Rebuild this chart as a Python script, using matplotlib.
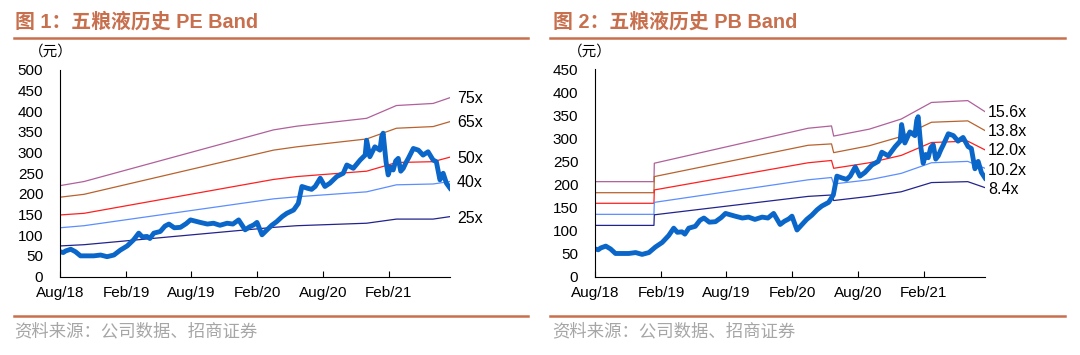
import matplotlib
matplotlib.use("Agg")
import matplotlib.pyplot as plt
import matplotlib.dates as mdates
import matplotlib.transforms as mtransforms
from matplotlib.lines import Line2D
import pandas as pd

plt.rcParams['font.family'] = ['Liberation Sans', 'Noto Sans CJK SC', 'DejaVu Sans']

# 股价（元）
price_dates = ['2018-08-01', '2018-08-10', '2018-08-17', '2018-08-31', '2018-09-13', '2018-09-27',
               '2018-10-16', '2018-11-03', '2018-11-22', '2018-12-10', '2018-12-29', '2019-01-16',
               '2019-02-04', '2019-02-22', '2019-03-08', '2019-03-18', '2019-03-31', '2019-04-08',
               '2019-04-19', '2019-05-07', '2019-05-20', '2019-05-31', '2019-06-15', '2019-07-02',
               '2019-07-18', '2019-07-30', '2019-08-26', '2019-09-15', '2019-10-02', '2019-10-20',
               '2019-11-09', '2019-11-25', '2019-12-11', '2019-12-29', '2020-01-10', '2020-01-22',
               '2020-01-31', '2020-02-14', '2020-02-28', '2020-03-12', '2020-03-26', '2020-04-10',
               '2020-04-23', '2020-05-12', '2020-05-25', '2020-06-04', '2020-06-18', '2020-07-01',
               '2020-07-11', '2020-07-25', '2020-08-07', '2020-08-21', '2020-09-09', '2020-09-27',
               '2020-10-07', '2020-10-25', '2020-11-13', '2020-11-27', '2020-12-01', '2020-12-10',
               '2020-12-24', '2021-01-07', '2021-01-12', '2021-01-16', '2021-01-24', '2021-01-30',
               '2021-02-06', '2021-02-13', '2021-02-20', '2021-02-27', '2021-03-06', '2021-03-13',
               '2021-03-20', '2021-03-27', '2021-04-10', '2021-04-24', '2021-05-07', '2021-05-21',
               '2021-06-04', '2021-06-13', '2021-06-23', '2021-07-02', '2021-07-11', '2021-07-21']
price = [60, 58, 62, 66, 60, 50,
         50, 50, 52, 48, 52, 64,
         74, 89, 105, 96, 97, 92,
         105, 109, 122, 127, 118, 119,
         128, 137, 131, 127, 129, 124,
         129, 127, 137, 113, 120, 125,
         131, 101, 113, 124, 133, 145,
         153, 161, 177, 218, 214, 211,
         218, 238, 218, 226, 242, 250,
         270, 262, 282, 294, 330, 290,
         314, 306, 339, 347, 278, 246,
         265, 258, 280, 286, 255, 262,
         275, 286, 310, 306, 294, 302,
         282, 278, 234, 250, 226, 214]

# PE Band
pe_dates = ['2018-08-01', '2018-10-07', '2020-03-17', '2020-05-21', '2020-12-01',
            '2021-02-22', '2021-06-04', '2021-07-21']
pe_labels = ['75x', '65x', '50x', '40x', '25x']
pe_75 = [220, 230, 355, 364, 383, 414, 419, 433]
pe_65 = [192, 199, 306, 314, 333, 359, 363, 375]
pe_50 = [149, 153, 235, 242, 255, 276, 278, 289]
pe_40 = [118, 123, 188, 193, 205, 222, 224, 230]
pe_25 = [74, 77, 119, 123, 129, 139, 139, 145]
pe_label_y = [431, 373, 286, 227, 141]

# PB Band
pb_dates = ['2018-08-01', '2019-01-12', '2019-01-13', '2020-03-16', '2020-05-20', '2020-05-26',
            '2020-09-02', '2020-11-30', '2021-02-22', '2021-06-03', '2021-07-21']
pb_labels = ['15.6x', '13.8x', '12.0x', '10.2x', '8.4x']
pb_156 = [206, 206, 246, 322, 327, 305, 320, 342, 378, 382, 358]
pb_138 = [182, 182, 217, 285, 288, 269, 284, 304, 335, 338, 317]
pb_120 = [159, 159, 188, 247, 252, 235, 247, 263, 291, 294, 275]
pb_102 = [135, 135, 161, 210, 215, 201, 210, 224, 247, 250, 235]
pb_84 = [111, 111, 134, 174, 177, 165, 174, 184, 204, 206, 193]
pb_label_y = [356, 315, 273, 231, 190]

band_colors = ['#B0609A', '#B8622E', '#FF1F1F', '#5C8EFF', '#23238E']
price_color = '#0A66C8'
accent = '#C8704E'

fig = plt.figure(figsize=(10.8, 3.55), dpi=100)


def draw_panel(ax, band_dates, bands, labels, label_y, ymax, label_x, unit_x):
    bd = pd.to_datetime(band_dates)
    for vals, c in zip(bands, band_colors):
        ax.plot(bd, vals, color=c, lw=0.9)
    ax.plot(pd.to_datetime(price_dates), price, color=price_color, lw=3.5, solid_joinstyle='round')
    trans = mtransforms.blended_transform_factory(ax.transAxes, ax.transData)
    for lab, y in zip(labels, label_y):
        ax.text(label_x, y, lab, transform=trans, ha='left', va='center', fontsize=11.5, clip_on=False)
    ax.set_ylim(0, ymax)
    ax.set_yticks(range(0, ymax + 1, 50))
    ax.set_xlim(pd.Timestamp('2018-08-01'), pd.Timestamp('2021-07-21'))
    ax.xaxis.set_major_locator(mdates.MonthLocator(bymonth=[2, 8]))
    ax.xaxis.set_major_formatter(mdates.DateFormatter('%b/%y'))
    ax.spines['top'].set_visible(False)
    ax.spines['right'].set_visible(False)
    for s in ['left', 'bottom']:
        ax.spines[s].set_linewidth(0.8)
        ax.spines[s].set_color('black')
    ax.tick_params(axis='x', direction='in', length=4, width=0.8, pad=7, labelsize=11)
    ax.tick_params(axis='y', length=0, pad=12, labelsize=11)
    ax.text(unit_x, 1.087, '（元）', transform=ax.transAxes, ha='center', va='center', fontsize=10.5)


ax1 = fig.add_axes([60 / 1080, 1 - 276.5 / 355, 390 / 1080, 206.5 / 355])
draw_panel(ax1, pe_dates, [pe_75, pe_65, pe_50, pe_40, pe_25], pe_labels, pe_label_y, 500, 1.018, -0.023)

ax2 = fig.add_axes([595 / 1080, 1 - 276.5 / 355, 390 / 1080, 207.2 / 355])
draw_panel(ax2, pb_dates, [pb_156, pb_138, pb_120, pb_102, pb_84], pb_labels, pb_label_y, 450, 1.008, -0.013)

# 标题与分隔线
fig.text(15 / 1080, 1 - 22 / 355, '图 1：五粮液历史 PE Band', color=accent, fontsize=14.3,
         fontweight='bold', ha='left', va='center')
fig.text(553 / 1080, 1 - 22 / 355, '图 2：五粮液历史 PB Band', color=accent, fontsize=14.3,
         fontweight='bold', ha='left', va='center')
for x0, x1 in [(14, 528), (550, 1065)]:
    for y in [38, 316]:
        fig.add_artist(Line2D([x0 / 1080, x1 / 1080], [1 - y / 355, 1 - y / 355],
                              color=accent, lw=1.8, transform=fig.transFigure))
fig.text(14 / 1080, 1 - 331 / 355, '资料来源：公司数据、招商证券', color='#A6A6A6', fontsize=12.5,
         fontweight='light', ha='left', va='center')
fig.text(552 / 1080, 1 - 331 / 355, '资料来源：公司数据、招商证券', color='#A6A6A6', fontsize=12.5,
         fontweight='light', ha='left', va='center')

fig.savefig('out.png', dpi=100)
